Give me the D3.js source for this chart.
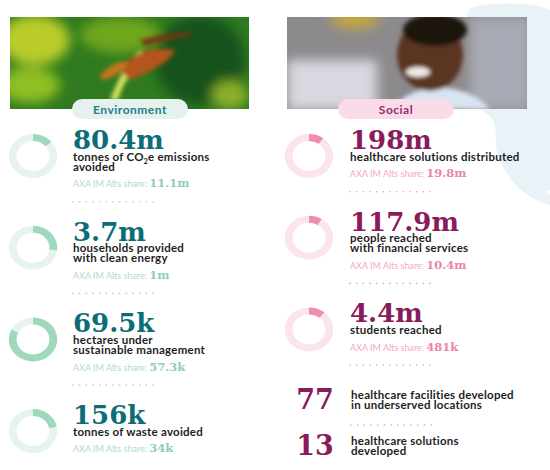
<!DOCTYPE html>
<meta charset="utf-8">
<script src="https://cdn.jsdelivr.net/npm/d3@7"></script>
<style>
body { margin: 0; background: #fff; }
.num { font-family: "DejaVu Serif", serif; font-weight: bold; }
.desc { font-family: Lato, "Open Sans", sans-serif; font-weight: bold; fill: #1e1e1e; font-size: 11.5px; letter-spacing: 0.25px; }
.share { font-family: Lato, "Open Sans", sans-serif; font-size: 9px; }
.pill { font-family: Lato, "Open Sans", sans-serif; font-weight: bold; font-size: 12px; letter-spacing: 0.5px; }
</style>
<body>
</body>
<script>
// environment column
var envTotals = ["80.4m", "3.7m", "69.5k", "156k"];
var envTotalValues = [80.4, 3.7, 69.5, 156];
var envShares = ["11.1m", "1m", "57.3k", "34k"];
var envShareValues = [11.1, 1, 57.3, 34];
var envDescriptions = [
  ["tonnes of CO|2|e emissions", "avoided"],
  ["households provided", "with clean energy"],
  ["hectares under", "sustainable management"],
  ["tonnes of waste avoided"]
];

// social column
var socTotals = ["198m", "117.9m", "4.4m"];
var socTotalValues = [198, 117.9, 4.4];
var socShares = ["19.8m", "10.4m", "481k"];
var socShareValues = [19.8, 10.4, 0.481];
var socDescriptions = [
  ["healthcare solutions distributed"],
  ["people reached", "with financial services"],
  ["students reached"]
];
var socOther = ["77", "13"];
var socOtherDescriptions = [
  ["healthcare facilities developed", "in underserved locations"],
  ["healthcare solutions", "developed"]
];

var shareLabel = "AXA IM Alts share:";
var sections = ["Environment", "Social"];

var envColors = {num: "#0d6d76", ring: "#e7f3ee", fill: "#9fd8bc", share: "#aedbc6", shareNum: "#8fcfb1", dots: "#9dd2bb", pill: "#e5f1ed", pillText: "#22808a"};
var socColors = {num: "#8a1a5b", ring: "#fbe4eb", fill: "#f08fab", share: "#f3a9bf", shareNum: "#ec86a6", dots: "#ef9cb5", pill: "#f9dce7", pillText: "#9a2a6c"};

var W = 550, H = 470;
var svg = d3.select("body").append("svg")
    .attr("width", W)
    .attr("height", H);

var defs = svg.append("defs");
defs.append("filter").attr("id", "blur").append("feGaussianBlur").attr("stdDeviation", 6);
defs.append("filter").attr("id", "blurs").append("feGaussianBlur").attr("stdDeviation", 2);
defs.append("clipPath").attr("id", "clipEnv").append("rect")
    .attr("x", 10).attr("y", 17).attr("width", 239).attr("height", 92);
defs.append("clipPath").attr("id", "clipSoc").append("rect")
    .attr("x", 287).attr("y", 17).attr("width", 240).attr("height", 92);

// faint map in the background, top right
var map = svg.append("g").attr("fill", "#e8f2f7");
map.append("path").attr("d", "M470,8 C500,0 540,4 550,10 L550,190 C530,200 515,180 500,160 C490,140 505,120 480,110 C470,80 455,40 470,8 Z");
map.append("path").attr("d", "M500,160 C520,175 540,185 550,195 L550,205 C530,200 510,185 500,160 Z");

// environment photo (blurred impression)
var ph1 = svg.append("g").attr("clip-path", "url(#clipEnv)");
ph1.append("rect").attr("x", 10).attr("y", 17).attr("width", 239).attr("height", 92).attr("fill", "#2f7a1f");
var g1 = ph1.append("g").attr("filter", "url(#blur)");
g1.append("ellipse").attr("cx", 35).attr("cy", 40).attr("rx", 35).attr("ry", 25).attr("fill", "#b9cc2a");
g1.append("ellipse").attr("cx", 30).attr("cy", 85).attr("rx", 30).attr("ry", 18).attr("fill", "#8fbf22");
g1.append("ellipse").attr("cx", 120).attr("cy", 35).attr("rx", 40).attr("ry", 18).attr("fill", "#6fa61e");
g1.append("ellipse").attr("cx", 200).attr("cy", 60).attr("rx", 45).attr("ry", 45).attr("fill", "#15521a");
g1.append("ellipse").attr("cx", 230).attr("cy", 95).attr("rx", 18).attr("ry", 14).attr("fill", "#8bb02a");
var g1b = ph1.append("g").attr("filter", "url(#blurs)");
g1b.append("path").attr("d", "M110,100 C118,80 125,65 140,50 L145,55 C132,70 122,85 118,100 Z").attr("fill", "#d8e060");
g1b.append("path").attr("d", "M120,70 C130,55 150,45 175,50 C170,62 150,72 130,80 Z").attr("fill", "#b4551b");
g1b.append("path").attr("d", "M140,40 C160,35 180,33 192,32 L190,36 C175,38 158,42 145,46 Z").attr("fill", "#7a3212");
g1b.append("path").attr("d", "M100,75 C110,65 120,60 128,62 C124,72 112,78 102,80 Z").attr("fill", "#c8741e");

// social photo (blurred impression)
var ph2 = svg.append("g").attr("clip-path", "url(#clipSoc)");
ph2.append("rect").attr("x", 287).attr("y", 17).attr("width", 240).attr("height", 92).attr("fill", "#8c8a8c");
var g2 = ph2.append("g").attr("filter", "url(#blur)");
g2.append("rect").attr("x", 287).attr("y", 60).attr("width", 90).attr("height", 50).attr("fill", "#d9d7e0");
g2.append("ellipse").attr("cx", 355).attr("cy", 20).attr("rx", 25).attr("ry", 8).attr("fill", "#c9a93a");
g2.append("rect").attr("x", 470).attr("y", 17).attr("width", 60).attr("height", 92).attr("fill", "#a7aab4");
var g2b = ph2.append("g").attr("filter", "url(#blurs)");
g2b.append("path").attr("d", "M395,109 C400,95 420,88 440,88 C465,88 480,98 490,109 Z").attr("fill", "#d8e4f0");
g2b.append("ellipse").attr("cx", 430).attr("cy", 55).attr("rx", 33).attr("ry", 36).attr("fill", "#5a3422");
g2b.append("ellipse").attr("cx", 435).attr("cy", 30).attr("rx", 32).attr("ry", 16).attr("fill", "#1c1410");
g2b.append("ellipse").attr("cx", 418).attr("cy", 72).attr("rx", 12).attr("ry", 5).attr("fill", "#f2ece6");

// section pills
function pill(cx, label, c) {
  svg.append("rect")
      .attr("x", cx - 58).attr("y", 99)
      .attr("width", 116).attr("height", 20)
      .attr("rx", 10)
      .attr("fill", c.pill);
  svg.append("text")
      .attr("class", "pill")
      .attr("x", cx).attr("y", 113.5)
      .attr("text-anchor", "middle")
      .attr("fill", c.pillText)
      .text(label);
}
pill(130, sections[0], envColors);
pill(396, sections[1], socColors);

var angle = d3.scaleLinear().domain([0, 1]).range([0, 2 * Math.PI]);
var arc = d3.arc().innerRadius(15).outerRadius(22);

function descLine(sel, line) {
  var parts = line.split("|");
  sel.append("tspan").text(parts[0]);
  if (parts.length > 1) {
    sel.append("tspan").attr("font-size", "7px").attr("dy", 3).text(parts[1]);
    sel.append("tspan").attr("dy", -3).text(parts[2]);
  }
}

function dots(x, y, c) {
  var dx = d3.scaleLinear().domain([0, 12]).range([x, x + 80]);
  svg.append("g").selectAll("circle")
      .data(d3.range(13))
    .enter().append("circle")
      .attr("cx", function(d) { return dx(d); })
      .attr("cy", y)
      .attr("r", 0.8)
      .attr("fill", c.dots);
}

// one column of donut + figure items, returns y of last dotted line
function column(totals, totalValues, shares, shareValues, descs, c, x0, dx, drawLastDots) {
  var y = 149, lastDot = 0;
  totals.forEach(function(t, i) {
    var frac = shareValues[i] / totalValues[i];
    var g = svg.append("g")
        .attr("transform", "translate(" + (x0 + dx) + "," + (y + 7) + ") scale(1.1,1)");
    g.append("path").attr("d", arc({startAngle: 0, endAngle: 2 * Math.PI})).attr("fill", c.ring);
    g.append("path").attr("d", arc({startAngle: 0, endAngle: angle(frac)})).attr("fill", c.fill);

    svg.append("text")
        .attr("class", "num")
        .attr("x", x0 + 63).attr("y", y)
        .attr("font-size", "26px")
        .attr("fill", c.num)
        .text(t);

    var ly = y + 11.7;
    descs[i].forEach(function(line, j) {
      svg.append("text").attr("class", "desc")
          .attr("x", x0 + 63).attr("y", ly + j * 10)
          .call(descLine, line);
    });
    var lastLine = ly + (descs[i].length - 1) * 10;
    var sy = lastLine + 16.5;
    var st = svg.append("text").attr("x", x0 + 63).attr("y", sy);
    st.append("tspan").attr("class", "share").attr("fill", c.share).text(shareLabel + " ");
    st.append("tspan").attr("class", "num").attr("font-size", "11.5px").attr("fill", c.shareNum).text(shares[i]);

    var dy = sy + 14.5;
    if (i < totals.length - 1 || drawLastDots) dots(x0 + 63, dy, c);
    lastDot = dy;
    y = dy + 39;
  });
  return lastDot;
}

column(envTotals, envTotalValues, envShares, envShareValues, envDescriptions, envColors, 10, 23, false);
var yDot = column(socTotals, socTotalValues, socShares, socShareValues, socDescriptions, socColors, 287, 22, true);

// plain figures without donut
var ly = yDot + 34;
socOther.forEach(function(n, i) {
  var lines = socOtherDescriptions[i];
  lines.forEach(function(line, j) {
    svg.append("text").attr("class", "desc")
        .attr("x", 351).attr("y", ly + j * 10)
        .text(line);
  });
  var last = ly + (lines.length - 1) * 10;
  svg.append("text")
      .attr("class", "num")
      .attr("x", 315).attr("y", last)
      .attr("text-anchor", "middle")
      .attr("font-size", "27px")
      .attr("fill", socColors.num)
      .text(n);
  if (i < socOther.length - 1) dots(351, last + 16, socColors);
  ly = last + 36;
});
</script>
